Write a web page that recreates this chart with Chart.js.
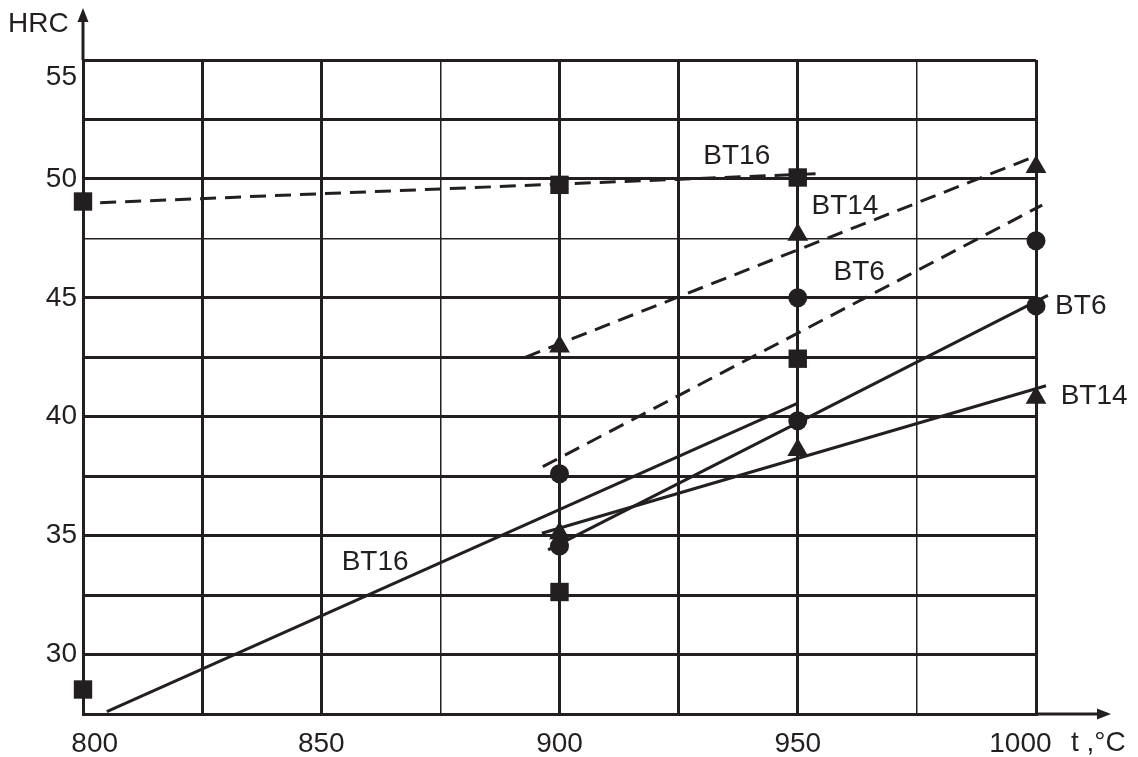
<!DOCTYPE html>
<html>
<head>
<meta charset="utf-8">
<script src="https://cdn.jsdelivr.net/npm/chart.js@4"></script>
<style>
  body { margin: 0; background: #fff; }
  canvas { display: block; }
</style>
</head>
<body>
<canvas id="hrcChart" width="1138" height="757"></canvas>
<script>
// Temperatures (°C) of the measured points
const tempsSquare = [800, 900, 950];
const tempsTriCirc = [900, 950, 1000];

// HRC readings, upper group (dashed fits)
const bt16Upper = [49.05, 49.75, 50.06];
const bt14Upper = [42.95, 47.65, 50.5];
const bt6Upper = [37.6, 45.0, 47.4];

// HRC readings, lower group (solid fits)
const bt16Lower = [28.53, 32.63, 42.44];
const bt14Lower = [35.1, 38.6, 40.8];
const bt6Lower = [34.56, 39.83, 44.66];

// Fitted lines: start/end temperature and HRC
const bt16DashT = [803.6, 954.0], bt16DashH = [49.0, 50.22];
const bt14DashT = [892.8, 999.2], bt14DashH = [42.5, 50.9];
const bt6DashT = [896.5, 1001.3], bt6DashH = [37.9, 48.9];
const bt16SolidT = [805.0, 949.8], bt16SolidH = [27.6, 40.55];
const bt14SolidT = [896.3, 1002.1], bt14SolidH = [35.1, 41.3];
const bt6SolidT = [897.6, 1002.5], bt6SolidH = [34.4, 45.1];

// Curve names and where they sit (in axis units)
const curveNames = ["BT16", "BT14", "BT6", "BT6", "BT14", "BT16"];
const curveLabelT = [937.2, 959.9, 962.9, 1009.4, 1012.2, 861.3];
const curveLabelH = [50.97, 48.87, 46.09, 44.66, 40.84, 33.87];

const ink = "#231f20";
const fontFamily = "'Liberation Sans', Arial, sans-serif";

const toPts = (xs, ys) => xs.map((t, i) => ({ x: t, y: ys[i] }));

function markers(xs, ys, style, radius) {
    return {
        data: toPts(xs, ys),
        showLine: false,
        pointStyle: style,
        pointRadius: radius,
        pointBackgroundColor: ink,
        pointBorderColor: ink,
        pointBorderWidth: 0,
        clip: false
    };
}

function fitLine(xs, ys, dashed) {
    return {
        data: toPts(xs, ys),
        showLine: true,
        borderColor: ink,
        borderWidth: 3,
        borderDash: dashed ? [16, 9] : [],
        pointRadius: 0,
        clip: false
    };
}

// Arrows on the axes, axis titles and curve names
const axisExtras = {
    id: "axisExtras",
    afterDraw(chart) {
        const { ctx, chartArea: a, scales: { x, y } } = chart;
        ctx.save();
        ctx.strokeStyle = ink;
        ctx.fillStyle = ink;
        ctx.lineWidth = 3;

        ctx.beginPath();
        ctx.moveTo(a.left, a.top);
        ctx.lineTo(a.left, 18);
        ctx.stroke();
        ctx.beginPath();
        ctx.moveTo(a.left, 8);
        ctx.lineTo(a.left - 5.5, 22);
        ctx.lineTo(a.left + 5.5, 22);
        ctx.closePath();
        ctx.fill();

        ctx.beginPath();
        ctx.moveTo(a.right, a.bottom);
        ctx.lineTo(1100, a.bottom);
        ctx.stroke();
        ctx.beginPath();
        ctx.moveTo(1111, a.bottom);
        ctx.lineTo(1097, a.bottom - 5.5);
        ctx.lineTo(1097, a.bottom + 5.5);
        ctx.closePath();
        ctx.fill();

        ctx.font = "28px " + fontFamily;
        ctx.textBaseline = "middle";
        ctx.textAlign = "left";
        ctx.fillText("HRC", 8, 24);
        ctx.fillText("t ,°C", 1071, 743);

        ctx.textAlign = "center";
        curveNames.forEach((name, i) => {
            ctx.fillText(name, x.getPixelForValue(curveLabelT[i]), y.getPixelForValue(curveLabelH[i]));
        });
        ctx.restore();
    }
};

new Chart(document.getElementById("hrcChart"), {
    type: "scatter",
    data: {
        datasets: [
            markers(tempsSquare, bt16Upper, "rect", 13),
            markers(tempsTriCirc, bt14Upper, "triangle", 12),
            markers(tempsTriCirc, bt6Upper, "circle", 9.5),
            markers(tempsSquare, bt16Lower, "rect", 13),
            markers(tempsTriCirc, bt14Lower, "triangle", 12),
            markers(tempsTriCirc, bt6Lower, "circle", 9.5),
            fitLine(bt16DashT, bt16DashH, true),
            fitLine(bt14DashT, bt14DashH, true),
            fitLine(bt6DashT, bt6DashH, true),
            fitLine(bt16SolidT, bt16SolidH, false),
            fitLine(bt14SolidT, bt14SolidH, false),
            fitLine(bt6SolidT, bt6SolidH, false)
        ]
    },
    options: {
        responsive: false,
        animation: false,
        events: [],
        layout: { padding: { top: 60, right: 102, bottom: 0, left: 0 } },
        plugins: {
            legend: { display: false },
            tooltip: { enabled: false }
        },
        scales: {
            x: {
                type: "linear",
                min: 800,
                max: 1000,
                afterFit: (s) => { s.height = 43; },
                border: { display: true, color: ink, width: 3 },
                grid: {
                    color: ink,
                    drawTicks: false,
                    lineWidth: (c) => (c.tick && (c.tick.value === 875 || c.tick.value === 975)) ? 1.5 : 3
                },
                ticks: {
                    stepSize: 25,
                    autoSkip: false,
                    maxRotation: 0,
                    padding: 13,
                    color: ink,
                    font: { family: fontFamily, size: 28 },
                    callback: (v) => {
                        if (v % 50 !== 0) return "";
                        if (v === 800) return "   800";
                        if (v === 1000) return "1000    ";
                        return String(v);
                    }
                }
            },
            y: {
                min: 27.5,
                max: 55,
                afterFit: (s) => { s.width = 83; },
                border: { display: true, color: ink, width: 3 },
                grid: {
                    color: ink,
                    drawTicks: false,
                    lineWidth: (c) => (c.tick && c.tick.value === 47.5) ? 1.5 : 3
                },
                ticks: {
                    stepSize: 2.5,
                    autoSkip: false,
                    padding: 6,
                    color: ink,
                    font: { family: fontFamily, size: 28 },
                    callback: (v) => {
                        if (v % 5 !== 0) return "";
                        return v === 55 ? ["", "55"] : String(v);
                    }
                }
            }
        }
    },
    plugins: [axisExtras]
});
</script>
</body>
</html>
